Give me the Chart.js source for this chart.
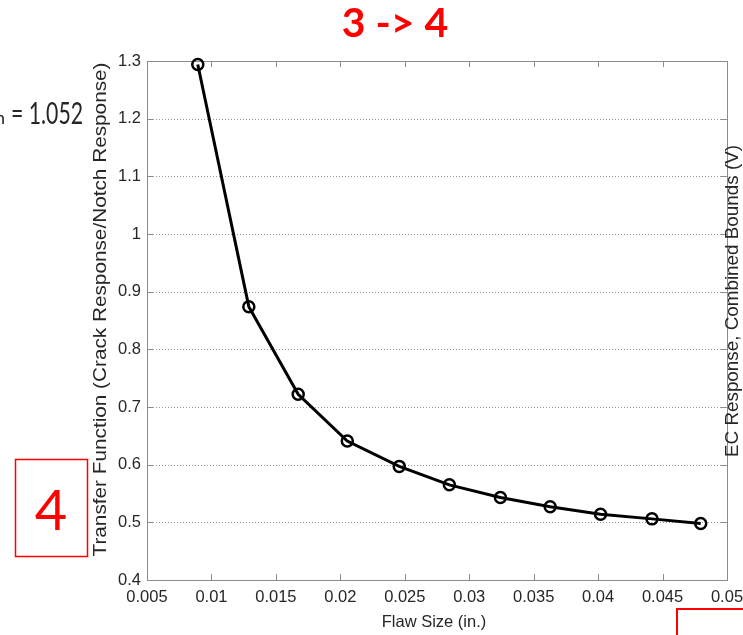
<!DOCTYPE html>
<html>
<head>
<meta charset="utf-8">
<script src="https://cdn.jsdelivr.net/npm/chart.js@4/dist/chart.umd.min.js"></script>
<style>
html,body{margin:0;padding:0;background:#fff;}
canvas{display:block;}
</style>
</head>
<body>
<canvas id="c" width="743" height="635"></canvas>
<script>
// Data
const flawSize = [0.00894, 0.0129, 0.01673, 0.02054, 0.02457, 0.02846, 0.03242, 0.03628, 0.04019, 0.04418, 0.04796];
const transferFn = [1.294, 0.874, 0.722, 0.641, 0.597, 0.565, 0.543, 0.527, 0.514, 0.506, 0.498];
const xTickRange = [0.005, 0.05, 0.005];
const yTickRange = [0.4, 1.3, 0.1];
const titleText = "3 -> 4";
const xTitle = "Flaw Size (in.)";
const yTitle = "Transfer Function (Crack Response/Notch Response)";
const y2Title = "EC Response, Combined Bounds (V)";
const sideNote = "= 1.052";
const boxLabel = "4";

const points = flawSize.map((x, i) => ({x: x, y: transferFn[i]}));
const TXT = '#262626';
const SANS = '"Liberation Sans", Arial, sans-serif';

function fitText(ctx, text, len) {
  const w = ctx.measureText(text).width;
  ctx.scale(len / w, 1);
  ctx.fillText(text, 0, 0);
}

const decor = {
  id: 'decor',
  beforeDatasetsDraw(chart) {
    const ctx = chart.ctx, a = chart.chartArea;
    const xs = chart.scales.x, ys = chart.scales.y;
    ctx.save();
    // dotted horizontal grid
    ctx.strokeStyle = '#999999';
    ctx.lineWidth = 1;
    ctx.setLineDash([1, 2]);
    ys.ticks.forEach(t => {
      const y = Math.round(ys.getPixelForValue(t.value)) + 0.5;
      ctx.beginPath(); ctx.moveTo(a.left, y); ctx.lineTo(a.right, y); ctx.stroke();
    });
    ctx.setLineDash([]);
    // box
    ctx.strokeStyle = '#8c8c8c';
    ctx.strokeRect(Math.round(a.left) + 0.5, Math.round(a.top) + 0.5, Math.round(a.right - a.left), Math.round(a.bottom - a.top));
    // inner tick marks
    ctx.beginPath();
    xs.ticks.forEach(t => {
      const x = Math.round(xs.getPixelForValue(t.value)) + 0.5;
      ctx.moveTo(x, a.bottom); ctx.lineTo(x, a.bottom - 6);
      ctx.moveTo(x, a.top); ctx.lineTo(x, a.top + 6);
    });
    ys.ticks.forEach(t => {
      const y = Math.round(ys.getPixelForValue(t.value)) + 0.5;
      ctx.moveTo(a.left, y); ctx.lineTo(a.left + 6, y);
      ctx.moveTo(a.right, y); ctx.lineTo(a.right - 6, y);
    });
    ctx.stroke();
    ctx.restore();
  },
  afterDraw(chart) {
    const ctx = chart.ctx, a = chart.chartArea;
    ctx.save();
    // title
    ctx.fillStyle = '#ff0000';
    ctx.font = 'bold 41px Lato, "Open Sans", sans-serif';
    ctx.textAlign = 'center';
    ctx.textBaseline = 'alphabetic';
    ctx.fillText(titleText, 395, 37);
    // axis titles
    ctx.fillStyle = TXT;
    ctx.font = '16.5px ' + SANS;
    ctx.fillText(xTitle, 434, 627);
    ctx.font = '19px ' + SANS;
    ctx.save();
    ctx.translate(106, 309.5);
    ctx.rotate(-Math.PI / 2);
    fitText(ctx, yTitle, 494);
    ctx.restore();
    ctx.save();
    ctx.translate(738, 301);
    ctx.rotate(-Math.PI / 2);
    fitText(ctx, y2Title, 312);
    ctx.restore();
    // side note (partially cut)
    ctx.fillStyle = '#262626';
    ctx.font = '30px Lato, sans-serif';
    ctx.textAlign = 'left';
    ctx.save();
    ctx.translate(11, 124);
    fitText(ctx, sideNote, 72);
    ctx.restore();
    ctx.font = '18px Lato, sans-serif';
    ctx.fillText('n', -5, 124);
    // red box with "4"
    ctx.strokeStyle = '#ff0000';
    ctx.lineWidth = 1.5;
    ctx.strokeRect(15.5, 459.5, 72, 97);
    ctx.fillStyle = '#ff0000';
    ctx.font = '56px Lato, sans-serif';
    ctx.textAlign = 'center';
    ctx.fillText(boxLabel, 51, 530);
    // bottom-right red box (cut off)
    ctx.lineWidth = 2;
    ctx.strokeRect(677, 609, 100, 100);
    ctx.restore();
  }
};

new Chart(document.getElementById('c'), {
  type: 'line',
  data: {
    datasets: [{
      data: points,
      borderColor: '#000',
      borderWidth: 3,
      tension: 0,
      pointRadius: 5.5,
      pointBorderWidth: 2.5,
      pointBorderColor: '#000',
      pointBackgroundColor: 'rgba(0,0,0,0)',
      clip: false
    }]
  },
  options: {
    responsive: false,
    animation: false,
    events: [],
    layout: { padding: { top: 61, right: 16, left: 0, bottom: 0 } },
    plugins: { legend: { display: false }, tooltip: { enabled: false }, title: { display: false } },
    scales: {
      x: {
        type: 'linear',
        min: xTickRange[0], max: xTickRange[1],
        afterFit(s) { s.height = 55; s.paddingLeft = 0; s.paddingRight = 0; },
        afterBuildTicks(s) {
          const t = [];
          for (let v = xTickRange[0]; v <= xTickRange[1] + 1e-9; v += xTickRange[2]) t.push({value: Number(v.toFixed(3))});
          s.ticks = t;
        },
        ticks: {
          padding: 8,
          maxRotation: 0,
          autoSkip: false,
          color: TXT,
          font: { family: SANS, size: 16.5 },
          callback: v => String(Number(v.toFixed(3)))
        },
        grid: { display: false, drawTicks: false },
        border: { display: false }
      },
      y: {
        type: 'linear',
        min: yTickRange[0], max: yTickRange[1],
        afterFit(s) { s.width = 147; s.paddingTop = 0; s.paddingBottom = 0; },
        afterBuildTicks(s) {
          const t = [];
          for (let v = yTickRange[0]; v <= yTickRange[1] + 1e-9; v += yTickRange[2]) t.push({value: Number(v.toFixed(1))});
          s.ticks = t;
        },
        ticks: {
          padding: 6,
          autoSkip: false,
          color: TXT,
          font: { family: SANS, size: 16.5 },
          callback: v => String(Number(v.toFixed(1)))
        },
        grid: { display: false, drawTicks: false },
        border: { display: false }
      }
    }
  },
  plugins: [decor]
});
</script>
</body>
</html>
